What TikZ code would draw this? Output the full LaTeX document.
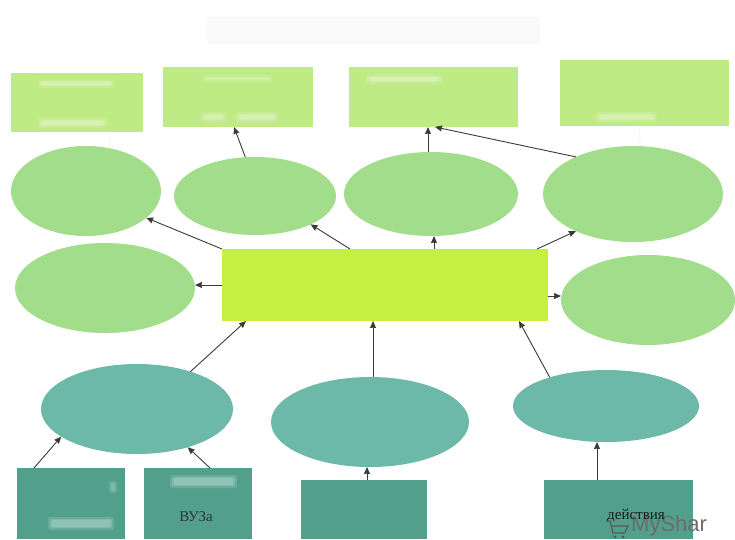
\documentclass[tikz,border=0pt]{standalone}
\usepackage{fontspec}
\setmainfont{Liberation Serif}
\newfontfamily\wmfont{Liberation Sans}
\usetikzlibrary{arrows.meta,shapes.geometric}
\definecolor{toprectc}{HTML}{BFEB85}
\definecolor{upell}{HTML}{A2DD8C}
\definecolor{midrect}{HTML}{C6F040}
\definecolor{lowell}{HTML}{6DB9A9}
\definecolor{lowrect}{HTML}{52A08C}
\definecolor{linec}{HTML}{3A3A3A}
\newcommand{\smearbar}[4]{%
  \fill[white,opacity=0.13,rounded corners=2pt] (#1-2,#2-2) rectangle (#3+2,#4+2);
  \fill[white,opacity=0.16,rounded corners=2pt] (#1,#2) rectangle (#3,#4);
  \fill[white,opacity=0.14,rounded corners=1pt] (#1+2,#2+1) rectangle (#3-2,#4-1);
}
\tikzset{
  x=1pt,y=-1pt,
  box/.style={rectangle,inner sep=0pt,outer sep=0pt},
  ell/.style={ellipse,inner sep=0pt,outer sep=0pt},
  toprect/.style={box,fill=toprectc},
  upellipse/.style={ell,fill=upell},
  centerrect/.style={box,fill=midrect},
  lowellipse/.style={ell,fill=lowell},
  lowbox/.style={box,fill=lowrect},
  conn/.style={draw=linec,line width=0.9pt,-{Stealth[length=7pt,width=6pt,inset=0.5pt]}},
  faintconn/.style={draw=white!88!toprectc,line width=1.5pt},
}
\begin{document}
\begin{tikzpicture}
\useasboundingbox (0,0) rectangle (735,539);
\fill[white] (0,0) rectangle (735,539);
% title, blurred away in the reference
\fill[black!2,rounded corners=3pt] (207,17) rectangle (540,44);
% top boxes
\node[toprect,minimum width=132pt,minimum height=59pt] (t1) at (77,102.5) {};
\node[toprect,minimum width=150pt,minimum height=60pt] (t2) at (238,97) {};
\node[toprect,minimum width=169pt,minimum height=60pt] (t3) at (433.5,97) {};
\node[toprect,minimum width=169pt,minimum height=66pt] (t4) at (644.5,93) {};
% upper ellipses
\node[upellipse,minimum width=150pt,minimum height=90pt] (a) at (86,191) {};
\node[upellipse,minimum width=162pt,minimum height=78pt] (b) at (255,196) {};
\node[upellipse,minimum width=174pt,minimum height=84pt] (c) at (431,194) {};
\node[upellipse,minimum width=180pt,minimum height=96pt] (d) at (633,194) {};
\node[upellipse,minimum width=180pt,minimum height=90pt] (e) at (105,288) {};
\node[upellipse,minimum width=174pt,minimum height=90pt] (f) at (648,300) {};
% centre
\node[centerrect,minimum width=326pt,minimum height=72pt] (m) at (385,285) {};
% lower ellipses
\node[lowellipse,minimum width=192pt,minimum height=90pt] (g) at (137,409) {};
\node[lowellipse,minimum width=198pt,minimum height=90pt] (h) at (370,422) {};
\node[lowellipse,minimum width=186pt,minimum height=72pt] (i) at (606,406) {};
% lower boxes
\node[lowbox,minimum width=108pt,minimum height=71pt] (r1) at (71,503.5) {};
\node[lowbox,minimum width=108pt,minimum height=71pt] (r2) at (198,503.5) {};
\node[lowbox,minimum width=126pt,minimum height=59pt] (r3) at (364,509.5) {};
\node[lowbox,minimum width=149pt,minimum height=59pt] (r4) at (618.5,509.5) {};
% blurred labels
\smearbar{40}{81}{112}{86}
\smearbar{40}{120}{105}{126}
\smearbar{203}{114}{224}{120}
\smearbar{238}{114}{276}{120}
\smearbar{205}{77}{270}{80}
\smearbar{368}{76}{440}{82}
\smearbar{598}{114}{655}{120}
\smearbar{172}{477}{235}{486}
\smearbar{50}{519}{112}{528}
\smearbar{111}{483}{115}{491}
% connectors
\draw[faintconn] ([xshift=33pt]t1.south) -- ([xshift=24pt]a.north);
\draw[faintconn] ([xshift=-5pt]t4.south) -- ([xshift=7pt]d.north);
\draw[conn] (b.104) -- ([xshift=-4pt]t2.south);
\draw[conn] ([xshift=-3pt]c.north) -- ([xshift=-5.5pt]t3.south);
\draw[conn] (d.147) -- ([xshift=1.5pt]t3.south);
\draw[conn] (m.north west) -- (a.-24);
\draw[conn] ([xshift=128pt]m.north west) -- (b.-27);
\draw[conn] ([xshift=212pt]m.north west) -- ([xshift=3pt]c.south);
\draw[conn] ([xshift=315pt]m.north west) -- (d.213);
\draw[conn] (m.west) -- ([yshift=3pt]e.east);
\draw[conn] ([yshift=-11pt]m.east) -- ([yshift=4pt]f.west);
\draw[conn] (g.35) -- ([xshift=24pt]m.south west);
\draw[conn] ([xshift=3pt]h.north) -- ([xshift=151pt]m.south west);
\draw[conn] (i.153) -- ([xshift=297pt]m.south west);
\draw[conn] ([xshift=17pt]r1.north west) -- (g.200);
\draw[conn] ([xshift=66pt]r2.north west) -- (g.-37);
\draw[conn] ([xshift=66pt]r3.north west) -- ([xshift=-3pt]h.south);
\draw[conn] ([xshift=53pt]r4.north west) -- ([xshift=-9pt]i.south);
% visible texts
\node[inner sep=0pt,font=\fontsize{15}{17}\selectfont,text=black!80] (vuz) at (196,517) {ВУЗа};
\node[inner sep=0pt,font=\wmfont\fontsize{22}{24}\selectfont,text=black!58,anchor=west] (wm) at (631,526) {MyShar};
\node[inner sep=0pt,font=\fontsize{15}{17}\selectfont,text=black!90] (act) at (636,516) {действия};
% cart icon
\draw[black!65,line width=1.3pt] (606,521) -- (610,521) -- (613,533) -- (625,533) (611,526) -- (628,526) -- (625,532);
\fill[black!65] (615,537) circle (1.6pt) (623,537) circle (1.6pt);
\end{tikzpicture}
\end{document}
